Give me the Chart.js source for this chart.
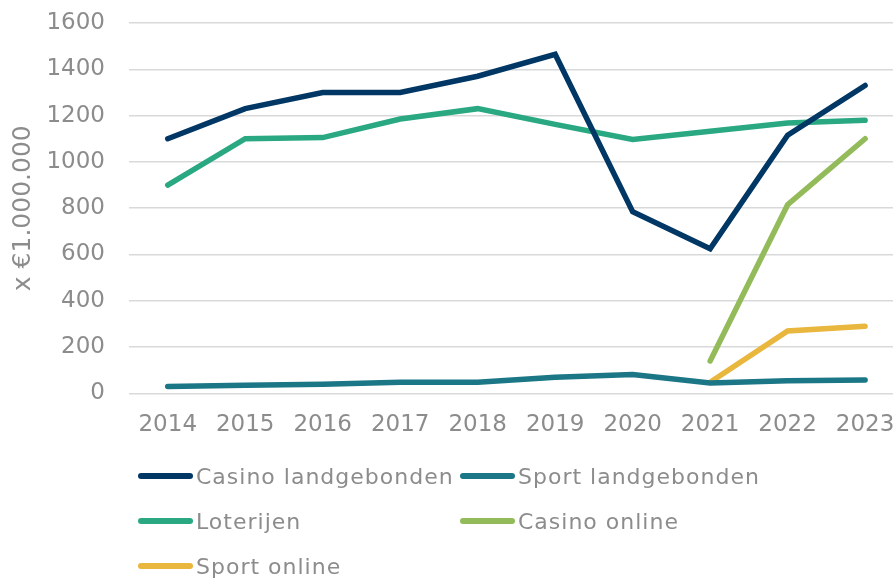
<!DOCTYPE html>
<html>
<head>
<meta charset="utf-8">
<script src="https://cdn.jsdelivr.net/npm/chart.js@4"></script>
<style>
  html, body { margin: 0; padding: 0; background: #fff; }
  #wrap { position: relative; width: 893px; height: 579px; overflow: hidden; }
  #legend { position: absolute; left: 138px; top: 458px; width: 760px;
    display: grid; grid-template-columns: 322px 322px; row-gap: 9px;
    font-family: "DejaVu Sans", sans-serif; font-size: 22px; letter-spacing: 1px; color: #8c8c8c; }
  .item { display: flex; align-items: center; height: 36px; white-space: nowrap; }
  .swatch { width: 55px; height: 6px; border-radius: 3px; margin-right: 3px; }
</style>
</head>
<body>
<div id="wrap">
  <canvas id="chart" width="893" height="579"></canvas>
  <div id="legend"></div>
</div>
<script>
const years = [2014, 2015, 2016, 2017, 2018, 2019, 2020, 2021, 2022, 2023];
const casinoLand = [1100, 1230, 1300, 1300, 1370, 1465, 785, 625, 1115, 1330];
const sportLand = [30, 35, 40, 48, 48, 70, 82, 45, 55, 58];
const loterijen = [900, 1100, 1105, 1185, 1230, 1162, 1097, 1132, 1168, 1180];
const casinoOnline = [null, null, null, null, null, null, null, 140, 815, 1100];
const sportOnline = [null, null, null, null, null, null, null, 48, 270, 290];
const yTicks = [0, 200, 400, 600, 800, 1000, 1200, 1400, 1600];

const series = [
  { label: 'Casino landgebonden', values: casinoLand, color: '#003764' },
  { label: 'Sport landgebonden', values: sportLand, color: '#1b7685' },
  { label: 'Loterijen', values: loterijen, color: '#2aa882' },
  { label: 'Casino online', values: casinoOnline, color: '#93bb5a' },
  { label: 'Sport online', values: sportOnline, color: '#e9b63e' }
];

const toPoints = vals => years.map((y, i) => ({ x: y, y: vals[i] })).filter(p => p.y !== null);

const font = { family: '"DejaVu Sans", sans-serif', size: 23 };
const grey = '#8c8c8c';

const chart = new Chart(document.getElementById('chart'), {
  type: 'line',
  data: {
    datasets: series.map(s => ({
      label: s.label,
      data: toPoints(s.values),
      borderColor: s.color,
      backgroundColor: s.color,
      borderWidth: 5.5,
      borderCapStyle: 'round',
      borderJoinStyle: 'miter',
      pointRadius: 0,
      tension: 0
    }))
  },
  options: {
    responsive: false,
    animation: false,
    layout: { padding: { top: 23, right: 0, bottom: 130, left: 0 } },
    plugins: { legend: { display: false }, tooltip: { enabled: false } },
    scales: {
      x: {
        type: 'linear',
        min: 2013.5,
        max: 2023.36,
        afterBuildTicks: axis => { axis.ticks = years.map(v => ({ value: v })); },
        afterFit: axis => { axis.paddingLeft = 0; axis.paddingRight = 0; },
        grid: { display: false },
        border: { display: false },
        ticks: { color: grey, font: font, padding: 10, maxRotation: 0, callback: v => String(v) }
      },
      y: {
        min: 0,
        max: 1600,
        afterBuildTicks: axis => { axis.ticks = yTicks.map(v => ({ value: v })); },
        afterFit: axis => { axis.paddingTop = 0; axis.paddingBottom = 0; axis.width = 129; },
        grid: { color: '#d9d9d9', lineWidth: 1.5, drawTicks: false },
        border: { display: false },
        ticks: { color: grey, font: font, padding: 24, callback: v => String(v) },
        title: { display: true, text: 'x €1.000.000', color: grey,
          font: { family: '"DejaVu Sans", sans-serif', size: 25 }, padding: 8 }
      }
    }
  }
});

const legend = document.getElementById('legend');
chart.data.datasets.forEach(ds => {
  const item = document.createElement('div');
  item.className = 'item';
  const sw = document.createElement('span');
  sw.className = 'swatch';
  sw.style.background = ds.borderColor;
  const txt = document.createElement('span');
  txt.textContent = ds.label;
  item.appendChild(sw);
  item.appendChild(txt);
  legend.appendChild(item);
});
</script>
</body>
</html>
